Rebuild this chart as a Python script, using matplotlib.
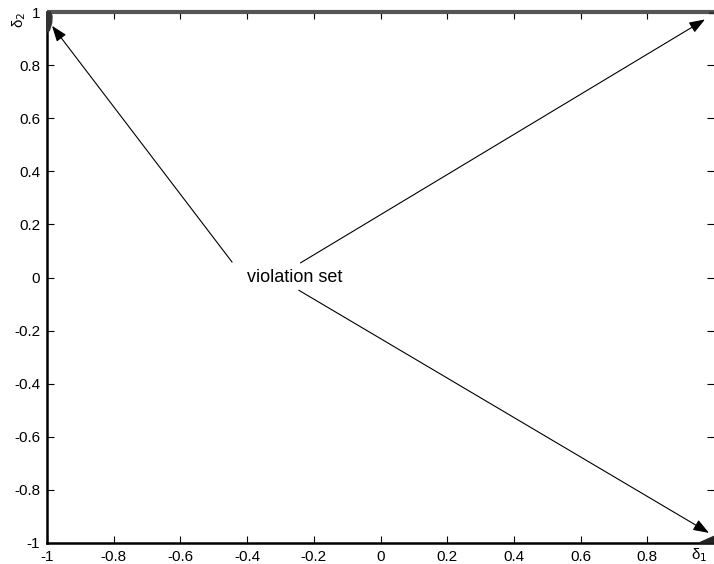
import matplotlib.pyplot as plt
import numpy as np

plt.rcParams['font.family'] = ['Liberation Sans', 'DejaVu Sans']

# violation set pieces
top_x = [-1.0, 1.0]
top_y = [1.0, 1.0]
tl_x = [-1.0, -0.99, -0.985, -0.986, -0.993, -1.0]
tl_y = [1.0, 1.0, 0.985, 0.96, 0.93, 0.925]
tr_x = [0.985, 1.0, 1.0, 0.985]
tr_y = [0.995, 0.995, 1.0, 1.0]
br_x = [0.955, 1.0, 1.0]
br_y = [-1.0, -0.975, -1.0]

xticks = [-1, -0.8, -0.6, -0.4, -0.2, 0, 0.2, 0.4, 0.6, 0.8]
xtick_labels = ['-1', '-0.8', '-0.6', '-0.4', '-0.2', '0', '0.2', '0.4', '0.6', '0.8']
yticks = [-1, -0.8, -0.6, -0.4, -0.2, 0, 0.2, 0.4, 0.6, 0.8, 1]
ytick_labels = ['-1', '-0.8', '-0.6', '-0.4', '-0.2', '0', '0.2', '0.4', '0.6', '0.8', '1']

label_xy = (-0.4, 0.0)
arrow_starts = [(-0.445, 0.058), (-0.24, 0.055), (-0.245, -0.048)]
arrow_tips = [(-0.985, 0.948), (0.973, 0.972), (0.985, -0.962)]

fig = plt.figure(figsize=(7.14, 5.64), dpi=100)
ax = fig.add_axes([47/714, 21/564, 667/714, 531/564])

ax.plot(top_x, top_y, color='#555555', lw=3, solid_capstyle='butt', clip_on=False, zorder=3)
ax.fill(tl_x, tl_y, color='#333333', clip_on=False, zorder=4)
ax.fill(tr_x, tr_y, color='#333333', clip_on=False, zorder=4)
ax.fill(br_x, br_y, color='#222222', clip_on=False, zorder=4)

ax.text(label_xy[0], label_xy[1], 'violation set', fontsize=13, va='center', ha='left')
for s, t in zip(arrow_starts, arrow_tips):
    ax.annotate('', xy=t, xytext=s,
                arrowprops=dict(arrowstyle='-|>,head_length=0.6,head_width=0.22',
                                color='black', lw=0.8,
                                mutation_scale=16, shrinkA=0, shrinkB=0))

ax.set_xlim(-1, 1)
ax.set_ylim(-1, 1)
ax.set_xticks(xticks)
ax.set_xticklabels(xtick_labels)
ax.set_yticks(yticks)
ax.set_yticklabels(ytick_labels)
ax.tick_params(direction='in', length=5, width=0.8, labelsize=11,
               top=True, right=True, pad=5)
for side in ['left', 'bottom']:
    ax.spines[side].set_linewidth(1.8)
ax.spines['top'].set_visible(False)
ax.spines['right'].set_visible(False)

ax.text(-1.083, 0.97, 'δ$_2$', rotation=90, fontsize=11, ha='center', va='center')
ax.text(0.955, -1.045, 'δ$_1$', fontsize=11, ha='center', va='center', clip_on=False)

plt.savefig('out.png', dpi=100)
